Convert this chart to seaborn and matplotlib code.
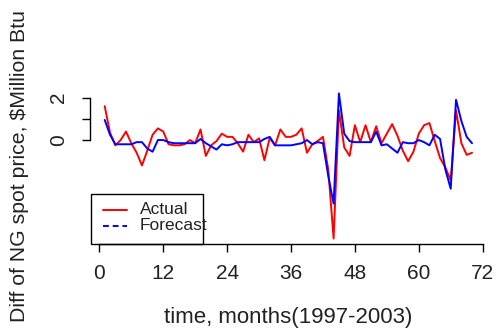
import numpy as np
import pandas as pd
import matplotlib
matplotlib.use("Agg")
import matplotlib.pyplot as plt
from matplotlib.patches import Rectangle
from matplotlib.lines import Line2D
import seaborn as sns

# Monthly differences of natural gas spot price ($/Million Btu), 1997-2003
months = list(range(1, 71))
actual = [
    1.60, 0.35, -0.25, 0.00, 0.40, -0.15, -0.60, -1.20, -0.50, 0.25,
    0.55, 0.40, -0.20, -0.25, -0.25, -0.20, 0.00, -0.15, 0.50, -0.75,
    -0.25, -0.05, 0.30, 0.15, 0.15, -0.15, -0.55, 0.25, -0.10, 0.08,
    -0.95, 0.10, -0.25, 0.50, 0.15, 0.15, 0.25, 0.55, -0.60, -0.20,
    -0.05, 0.15, -1.40, -4.65, 1.40, -0.35, -0.75, 0.70, -0.10, 0.70,
    -0.10, 0.65, -0.15, 0.30, 0.75, 0.20, -0.50, -1.00, -0.55, 0.30,
    0.70, 0.80, -0.05, -0.85, -1.30, -1.90, 1.40, -0.15, -0.70, -0.60,
]
forecast = [
    0.95, 0.25, -0.20, -0.20, -0.20, -0.20, -0.10, -0.10, -0.40, -0.55,
    0.00, 0.00, -0.10, -0.15, -0.15, -0.15, -0.15, -0.15, 0.05, -0.15,
    -0.30, -0.45, -0.20, -0.25, -0.20, -0.10, -0.10, -0.10, -0.10, -0.10,
    0.05, 0.15, -0.25, -0.25, -0.25, -0.25, -0.20, -0.15, 0.00, -0.20,
    -0.10, -0.15, -1.70, -3.00, 2.20, 0.30, -0.05, -0.10, -0.10, -0.10,
    -0.10, 0.40, -0.25, -0.20, -0.40, -0.60, -0.10, -0.15, -0.15, 0.00,
    -0.10, -0.25, 0.25, 0.05, -1.40, -2.30, 1.90, 0.90, 0.15, -0.15,
]
series_names = ["Actual", "Forecast"]
series_colors = ["#ff0000", "#0000ff"]
x_ticks = [0, 12, 24, 36, 48, 60, 72]
y_ticks = [0, 1, 2]
y_tick_labels = ["0", "", "2"]

sns.set_style("ticks")
plt.rcParams["font.family"] = ["Liberation Sans", "DejaVu Sans"]

df = pd.DataFrame({
    "month": months * 2,
    "value": actual + forecast,
    "series": [series_names[0]] * len(months) + [series_names[1]] * len(months),
})

W, H = 497, 333
fig = plt.figure(figsize=(W / 100, H / 100), dpi=100)


def fx(px):
    return px / W


def fy(py):
    return 1 - py / H


left, right, top, bottom = 90, 486.7, 87.6, 244.4
ax = fig.add_axes([fx(left), fy(bottom), fx(right - left), (bottom - top) / H])

sns.lineplot(data=df, x="month", y="value", hue="series",
             palette=dict(zip(series_names, series_colors)),
             linewidth=1.4, ax=ax, legend=False)

# R-style axis limits (4% padding around the data range)
xr = max(months) - min(months)
ax.set_xlim(min(months) - 0.04 * xr, max(months) + 0.04 * xr)
allv = actual + forecast
yr = max(allv) - min(allv)
ax.set_ylim(min(allv) - 0.04 * yr, max(allv) + 0.04 * yr)

for s in ["top", "right"]:
    ax.spines[s].set_visible(False)
for s in ["left", "bottom"]:
    ax.spines[s].set_color("black")
    ax.spines[s].set_linewidth(1.0)
ax.spines["bottom"].set_bounds(x_ticks[0], x_ticks[-1])
ax.spines["left"].set_bounds(y_ticks[0], y_ticks[-1])

ax.set_xticks(x_ticks)
ax.set_xticklabels([str(t) for t in x_ticks])
ax.set_yticks(y_ticks)
ax.set_yticklabels(y_tick_labels, rotation=90, va="center")
ax.tick_params(axis="both", direction="out", length=6, width=1.0,
               colors="black", labelsize=15, labelcolor="#222222",
               bottom=True, left=True)
ax.tick_params(axis="x", pad=8)
ax.tick_params(axis="y", pad=10)

ax.set_xlabel("time, months(1997-2003)", fontsize=16, color="#222222")
ax.set_ylabel("Diff of NG spot price, \\$Million Btu", fontsize=15.3, color="#222222")
ax.xaxis.set_label_coords(0.5, (bottom - 317) / (bottom - top))
ax.xaxis.label.set_va("center")
ax.yaxis.set_label_coords((20 - left) / (right - left), 0.5)
ax.yaxis.label.set_va("center")

# Legend box in the lower-left corner of the plot region
fig.add_artist(Rectangle((fx(91), fy(244)), fx(203) - fx(91), fy(194) - fy(244),
                         transform=fig.transFigure, fill=False,
                         edgecolor="black", linewidth=1.0))
legend_rows = [210, 226]
for name, color, row, style in zip(series_names, series_colors, legend_rows, ["-", "--"]):
    fig.add_artist(Line2D([fx(103), fx(127)], [fy(row), fy(row)],
                          transform=fig.transFigure, color=color,
                          linewidth=1.4, linestyle=style,
                          dashes=(3, 2) if style == "--" else (None, None)))
    fig.text(fx(140), fy(row), name, fontsize=12.5, color="#222222",
             ha="left", va="center")

fig.savefig("out.png", dpi=100)
